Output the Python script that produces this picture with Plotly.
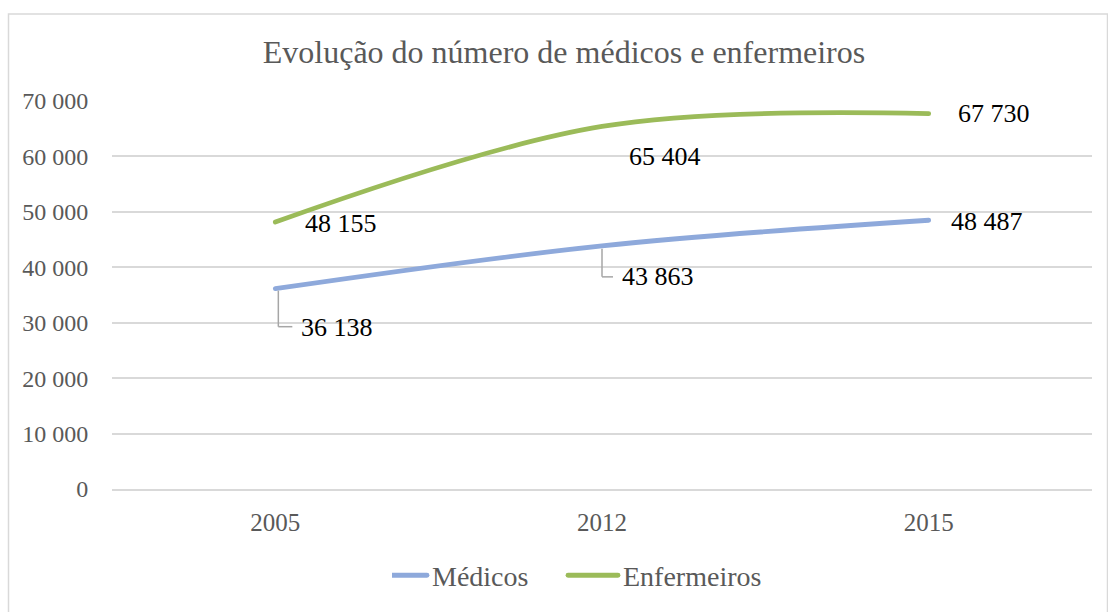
import plotly.graph_objects as go

# ---- data ----
years = ["2005", "2012", "2015"]
medicos = [36138, 43863, 48487]
enfermeiros = [48155, 65404, 67730]
series_names = ["Médicos", "Enfermeiros"]
title_text = "Evolução do número de médicos e enfermeiros"

# ---- styles ----
BLUE = "#8EA9DB"
GREEN = "#9BBB59"
GRID = "#D9D9D9"
TXT = "#595959"
FONT = "Liberation Serif, Times New Roman, serif"

W, H = 1108, 612
L, R, T, B = 112, 16, 101, 121
pw, ph = W - L - R, H - T - B

def fmt(v):
    return f"{v:,}".replace(",", " ")

# label offsets in pixels (xshift, yshift) per series/point
med_off = [(62, -39), (56, -31), (58, -1)]
enf_off = [(66, -1), (63, -30), (65, 0)]
# leader lines (pixel polylines relative to point; y positive up)
med_leaders = [[(3, -2), (3, -38), (17, -38)], [(0, -3), (0, -31), (11, -31)], None]

fig = go.Figure()
fig.add_trace(go.Scatter(x=years, y=medicos, name=series_names[0], mode="lines",
                         line=dict(color=BLUE, width=4.8, shape="spline", smoothing=1.0)))
fig.add_trace(go.Scatter(x=years, y=enfermeiros, name=series_names[1], mode="lines",
                         line=dict(color=GREEN, width=4.8, shape="spline", smoothing=1.0)))

ann = []
for vals, offs in ((medicos, med_off), (enfermeiros, enf_off)):
    for i, v in enumerate(vals):
        ann.append(dict(x=i, y=v, xref="x", yref="y", text=fmt(v), showarrow=False,
                        xshift=offs[i][0], yshift=offs[i][1],
                        font=dict(family=FONT, size=26, color="#000000")))

shapes = []
for i, pts in enumerate(med_leaders):
    if pts is None:
        continue
    for (xa, ya), (xb, yb) in zip(pts[:-1], pts[1:]):
        shapes.append(dict(type="line", xref="x", yref="y",
                           xsizemode="pixel", ysizemode="pixel",
                           xanchor=i, yanchor=medicos[i],
                           x0=xa, y0=ya, x1=xb, y1=yb,
                           line=dict(color="#A6A6A6", width=1.5)))

# outer chart frame
def px2paper_x(px):
    return (px - L) / pw

def px2paper_y(py):
    return (H - B - py) / ph

shapes.append(dict(type="rect", xref="paper", yref="paper", layer="below",
                   x0=px2paper_x(8.5), x1=px2paper_x(1107.5),
                   y0=px2paper_y(640), y1=px2paper_y(13.5),
                   line=dict(color=GRID, width=1.5), fillcolor="rgba(0,0,0,0)"))

fig.update_layout(
    width=W, height=H,
    margin=dict(l=L, r=R, t=T, b=B),
    paper_bgcolor="white", plot_bgcolor="white",
    separators=", ",
    font=dict(family=FONT, color=TXT, size=24),
    title=dict(text=title_text, x=564 / W, xanchor="center", xref="container",
               y=1 - 52 / H, yanchor="middle", yref="container",
               font=dict(family=FONT, size=32, color=TXT)),
    xaxis=dict(type="category", range=[-0.5, 2.5], showgrid=False, showline=True,
               linecolor=GRID, linewidth=1.5, ticks="outside", ticklen=10,
               tickcolor="rgba(0,0,0,0)", tickfont=dict(size=25, color=TXT), zeroline=False),
    yaxis=dict(range=[0, 70000], dtick=10000, tickformat=",d", showgrid=True,
               gridcolor=GRID, gridwidth=1.5, showline=False, zeroline=False,
               ticks="outside", ticklen=18, tickcolor="rgba(0,0,0,0)",
               tickfont=dict(size=24, color=TXT)),
    legend=dict(orientation="h", x=px2paper_x(392), xanchor="left",
                y=px2paper_y(578), yanchor="middle",
                entrywidth=146, entrywidthmode="pixels",
                font=dict(size=28, color=TXT), bgcolor="rgba(0,0,0,0)"),
    annotations=ann,
    shapes=shapes,
    showlegend=True,
)

post = """
document.body.style.margin = '0';
document.querySelectorAll('.legendlines path').forEach(function(p){ p.setAttribute('d', 'M-15,0h50'); });
document.querySelectorAll('.js-line').forEach(function(p){ p.style.strokeLinecap = 'round'; });
"""
fig.write_html("out.html", post_script=post, config={"displayModeBar": False})
